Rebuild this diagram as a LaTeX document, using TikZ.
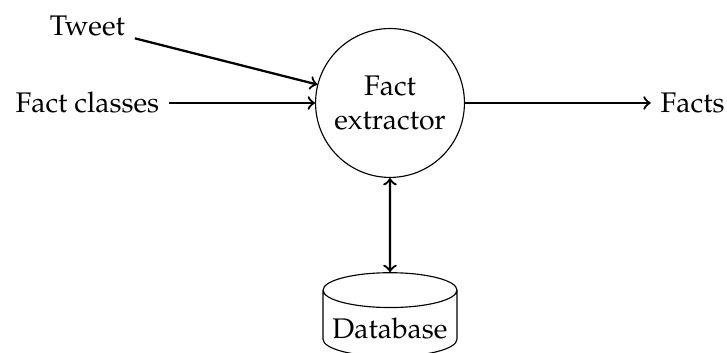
\documentclass[tikz,border=0pt]{standalone}
\usepackage[T1]{fontenc}
\usepackage{mathpazo}
\usepackage{amsmath}
\usepackage{tikz}
\usetikzlibrary{shapes.geometric}

\begin{document}
\begin{tikzpicture}[flow/.style={thick,->},link/.style={thick,<->}]
				\useasboundingbox (-4.833,-3.098) rectangle (4.176,1.276);
				\node (extractor) at (0,0) [circle,draw,align=center] {Fact\\extractor};
				\node (tweet) at (-3.75,0.95) {Tweet};
				\node (classes) at (-3.75,0) {Fact classes};
				\node (facts) at (3.75,0) {Facts};
				\node (db) at (0,-2.79) [cylinder,draw,shape border rotate=90,aspect=0.26] {Database};
				
				\draw[flow] (tweet) -- (extractor);
				\draw[flow] (classes) -- (extractor);
				\draw[flow] (extractor) -- (facts);
				\draw[link] (extractor) -- (db);
			\end{tikzpicture}
\end{document}
